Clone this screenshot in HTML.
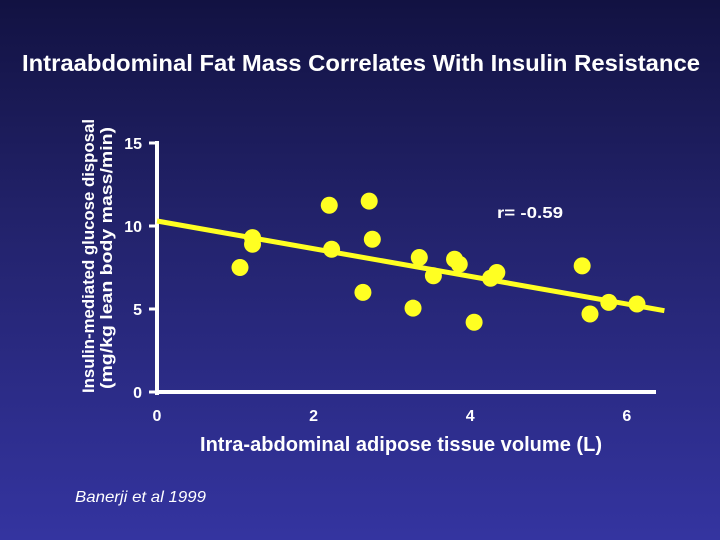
<!DOCTYPE html>
<html><head><meta charset="utf-8"><style>
body{margin:0;width:720px;height:540px;overflow:hidden;background:linear-gradient(#121242 0%,#22226a 40%,#3434a0 100%);font-family:"Liberation Sans",sans-serif}
</style></head><body>
<svg width="720" height="540" style="position:absolute;left:0;top:0">
<text x="361" y="71" fill="#fff" font-size="23" font-weight="bold" text-anchor="middle" textLength="678" lengthAdjust="spacingAndGlyphs">Intraabdominal Fat Mass Correlates With Insulin Resistance</text>
<g id="axes"></g>
<g id="marks"></g>
<text transform="translate(94,256) rotate(-90)" fill="#fff" font-size="17" font-weight="bold" text-anchor="middle" textLength="274" lengthAdjust="spacingAndGlyphs">Insulin-mediated glucose disposal</text>
<text transform="translate(112,258) rotate(-90)" fill="#fff" font-size="17" font-weight="bold" text-anchor="middle" textLength="262" lengthAdjust="spacingAndGlyphs">(mg/kg lean body mass/min)</text>
<text x="401" y="451" fill="#fff" font-size="20" font-weight="bold" text-anchor="middle" textLength="402" lengthAdjust="spacingAndGlyphs">Intra-abdominal adipose tissue volume (L)</text>
<text x="530" y="218" fill="#fff" font-size="16" font-weight="bold" text-anchor="middle" textLength="66" lengthAdjust="spacingAndGlyphs">r= -0.59</text>
<text x="75" y="502" fill="#fff" font-size="16" font-style="italic" textLength="131" lengthAdjust="spacingAndGlyphs">Banerji et al 1999</text>
</svg>
<script>
const xValues=[1.06,1.22,1.22,2.2,2.23,2.71,2.75,2.63,3.27,3.35,3.53,3.80,3.86,4.05,4.26,4.34,5.43,5.53,5.77,6.13];
const yValues=[7.5,9.3,8.9,11.25,8.6,11.5,9.2,6.0,5.05,8.1,7.0,8.0,7.7,4.2,6.85,7.2,7.6,4.7,5.4,5.3];
const yTicks=[0,5,10,15];
const xTicks=[0,2,4,6];
const fitLine=[[0,10.3],[6.48,4.9]];
const NS="http://www.w3.org/2000/svg";
const sx=v=>157+v*78.3;
const sy=v=>392-v*16.6;
const axes=document.getElementById('axes'),marks=document.getElementById('marks');
function mk(tag,at,parent){const e=document.createElementNS(NS,tag);for(const k in at)e.setAttribute(k,at[k]);parent.appendChild(e);return e;}
let a=mk('line',{x1:157,y1:sy(15)-2,x2:157,y2:395,stroke:'#fff','stroke-width':4},axes);


a=mk('line',{x1:155,y1:392,x2:656,y2:392,stroke:'#fff','stroke-width':4},axes);


yTicks.forEach(t=>{const l=mk('line',{x1:149,y1:sy(t),x2:157,y2:sy(t),stroke:'#fff','stroke-width':3},axes);


const tx=mk('text',{x:142,y:sy(t)+6,fill:'#fff','font-size':16,'font-weight':'bold','text-anchor':'end'},axes);tx.textContent=t;

});
xTicks.forEach(t=>{const tx=mk('text',{x:sx(t),y:421,fill:'#fff','font-size':16,'font-weight':'bold','text-anchor':'middle'},axes);tx.textContent=t;

});
const fl=mk('line',{x1:sx(fitLine[0][0]),y1:sy(fitLine[0][1]),x2:sx(fitLine[1][0]),y2:sy(fitLine[1][1]),stroke:'#ffff22','stroke-width':5},marks);


xValues.forEach((x,i)=>{const c=mk('circle',{cx:sx(x),cy:sy(yValues[i]),r:8.5,fill:'#ffff22'},marks);

});
</script>
</body></html>
